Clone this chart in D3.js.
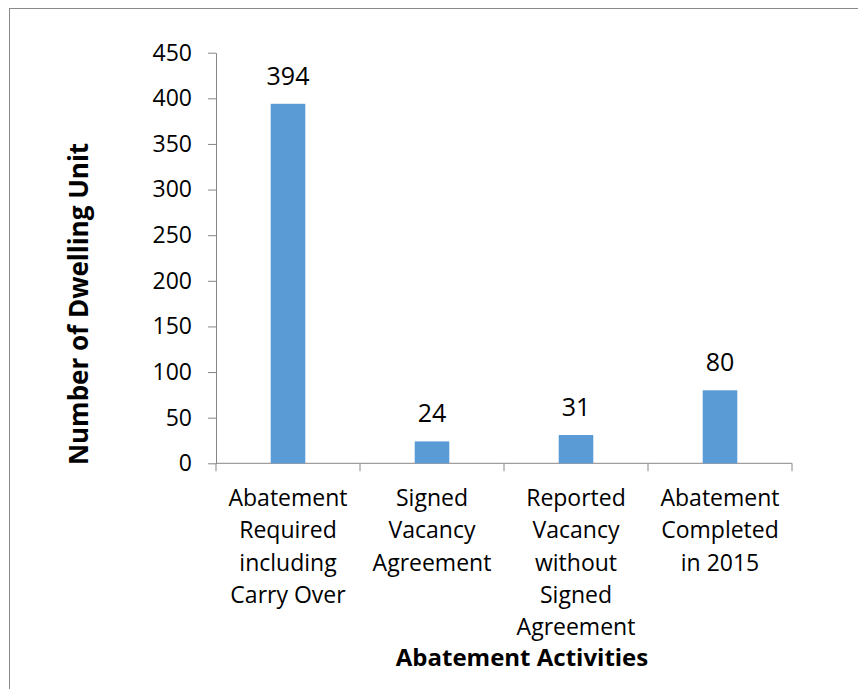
<!DOCTYPE html>
<html>
<head>
<meta charset="utf-8">
<script src="https://cdn.jsdelivr.net/npm/d3@7"></script>
<style>
  body { margin: 0; background: #fff; }
  svg { display: block; font-family: "Open Sans", sans-serif; }
</style>
</head>
<body>
<svg id="chart"></svg>
<script>
var categories = [
    ["Abatement", "Required", "including", "Carry Over"],
    ["Signed", "Vacancy", "Agreement"],
    ["Reported", "Vacancy", "without", "Signed", "Agreement"],
    ["Abatement", "Completed", "in 2015"]
];
var values = [394, 24, 31, 80];
var yTicks = [0, 50, 100, 150, 200, 250, 300, 350, 400, 450];

var width = 858,
    height = 689;

var plotLeft = 216, plotRight = 792, plotTop = 52.7, plotBottom = 463.3;
var axisColor = "#868686";

var chart = d3.select("#chart")
    .attr("width", width)
    .attr("height", height);

// outer frame, runs off the right and bottom edges
chart.append("rect")
    .attr("x", 9.5).attr("y", 8.5)
    .attr("width", 900).attr("height", 800)
    .attr("fill", "none")
    .attr("stroke", "#898989");

var x = d3.scaleBand()
    .domain(d3.range(categories.length))
    .range([plotLeft, plotRight])
    .padding(0);

var y = d3.scaleLinear()
    .domain([0, 450])
    .range([plotBottom, plotTop]);

// y axis
var yAxis = chart.append("g")
    .attr("transform", "translate(" + plotLeft + ",0)")
    .call(d3.axisLeft(y).tickValues(yTicks).tickSize(8).tickSizeOuter(0).tickPadding(16));

yAxis.select(".domain").attr("stroke", axisColor);
yAxis.selectAll(".tick line").attr("stroke", axisColor);
yAxis.selectAll(".tick text")
    .attr("fill", "#000")
    .style("font-family", "'Open Sans', sans-serif")
    .style("font-size", "23px");

// x axis: baseline plus ticks at category boundaries
var xAxis = chart.append("g");
xAxis.append("line")
    .attr("x1", plotLeft).attr("x2", plotRight)
    .attr("y1", y(0)).attr("y2", y(0))
    .attr("stroke", axisColor);

var bounds = d3.range(categories.length + 1).map(function(i) {
    return plotLeft + i * x.step();
});
xAxis.selectAll(".xtick")
    .data(bounds)
    .enter().append("line")
    .attr("class", "xtick")
    .attr("x1", function(d) { return d; })
    .attr("x2", function(d) { return d; })
    .attr("y1", y(0))
    .attr("y2", y(0) + 8)
    .attr("stroke", axisColor);

// bars
var barW = x.bandwidth() * 0.24;
chart.append("g")
    .selectAll("rect")
    .data(values)
    .enter().append("rect")
    .attr("x", function(d, i) { return x(i) + x.bandwidth() / 2 - barW / 2; })
    .attr("y", function(d) { return y(d); })
    .attr("width", barW)
    .attr("height", function(d) { return y(0) - y(d); })
    .attr("fill", "#5B9BD5");

// value labels
chart.append("g")
    .selectAll("text")
    .data(values)
    .enter().append("text")
    .attr("x", function(d, i) { return x(i) + x.bandwidth() / 2; })
    .attr("y", function(d) { return y(d) - 19; })
    .attr("text-anchor", "middle")
    .style("font-size", "25px")
    .text(function(d) { return d; });

// category labels
var catLabel = chart.append("g")
    .selectAll("text")
    .data(categories)
    .enter().append("text")
    .attr("text-anchor", "middle")
    .style("font-size", "23px");

catLabel.selectAll("tspan")
    .data(function(d, i) { return d.map(function(line, j) { return {line: line, i: i, j: j}; }); })
    .enter().append("tspan")
    .attr("x", function(d) { return x(d.i) + x.bandwidth() / 2; })
    .attr("y", function(d) { return 506 + d.j * 32.3; })
    .text(function(d) { return d.line; });

// axis titles
chart.append("text")
    .attr("x", 522)
    .attr("y", 666)
    .attr("text-anchor", "middle")
    .style("font-size", "24px")
    .style("font-weight", "bold")
    .text("Abatement Activities");

chart.append("text")
    .attr("transform", "translate(88,304) rotate(-90)")
    .attr("text-anchor", "middle")
    .style("font-size", "26px")
    .style("font-weight", "bold")
    .text("Number of Dwelling Unit");
</script>
</body>
</html>
